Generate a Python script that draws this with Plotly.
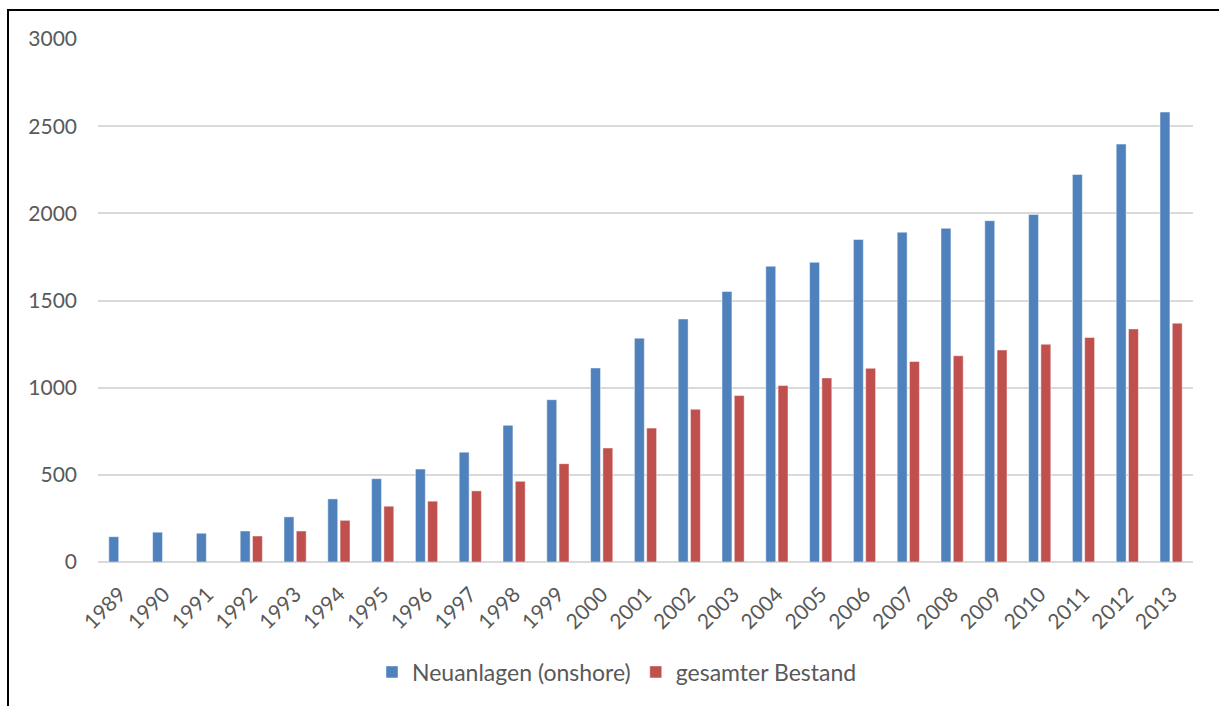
import plotly.graph_objects as go

years = [str(y) for y in range(1989, 2014)]
neuanlagen = [145, 171, 165, 178, 259, 362, 478, 533, 630, 784, 931, 1113,
              1284, 1394, 1552, 1697, 1719, 1850, 1892, 1914, 1958, 1993, 2223, 2397, 2581]
bestand = [None, None, None, 149, 178, 239, 320, 349, 408, 463, 564, 654,
           768, 876, 955, 1012, 1056, 1111, 1150, 1183, 1216, 1249, 1288, 1337, 1370]
series_names = ["Neuanlagen (onshore)", "gesamter Bestand"]
y_ticks = [0, 500, 1000, 1500, 2000, 2500, 3000]

FONT = "Lato, 'Open Sans', sans-serif"
GREY = "#595959"

fig = go.Figure()
fig.add_trace(go.Bar(x=years, y=neuanlagen, name=series_names[0],
                     marker=dict(color="#4F81BD", line=dict(color="rgba(255,255,255,0.6)", width=0.8))))
fig.add_trace(go.Bar(x=years, y=bestand, name=series_names[1],
                     marker=dict(color="#C0504D", line=dict(color="rgba(255,255,255,0.6)", width=0.8))))

W, H = 1219, 706
L, R, T, B = 98, 26, 39, 144
pw, ph = W - L - R, H - T - B

def px_x(p):
    return (p - L) / pw

def px_y(p):
    return (H - B - p) / ph

fig.update_layout(
    width=W, height=H,
    margin=dict(l=L, r=R, t=T, b=B, pad=0),
    paper_bgcolor="white", plot_bgcolor="white",
    barmode="group", bargap=0.44, bargroupgap=0.19,
    font=dict(family=FONT, size=21, color=GREY),
    showlegend=True,
    legend=dict(orientation="h", x=px_x(617), xanchor="center",
                y=px_y(672), yanchor="middle",
                font=dict(family=FONT, size=23, color=GREY),
                itemwidth=30, traceorder="normal"),
    xaxis=dict(type="category", tickangle=-45, showgrid=False, showline=False,
               ticks="", zeroline=False, ticklabelstandoff=15,
               tickfont=dict(family=FONT, size=21, color=GREY)),
    yaxis=dict(range=[0, 3000], tickvals=y_ticks, showgrid=True,
               gridcolor="#D9D9D9", gridwidth=1.5, zeroline=True,
               zerolinecolor="#D9D9D9", zerolinewidth=1.5, showline=False,
               ticks="", ticklabelstandoff=20,
               tickfont=dict(family=FONT, size=21, color=GREY)),
    shapes=[dict(type="rect", xref="paper", yref="paper",
                 x0=px_x(8), x1=px_x(1240), y0=px_y(740), y1=px_y(10),
                 line=dict(color="black", width=2), fillcolor="rgba(0,0,0,0)",
                 layer="above")],
)

fig.write_html("out.html")
